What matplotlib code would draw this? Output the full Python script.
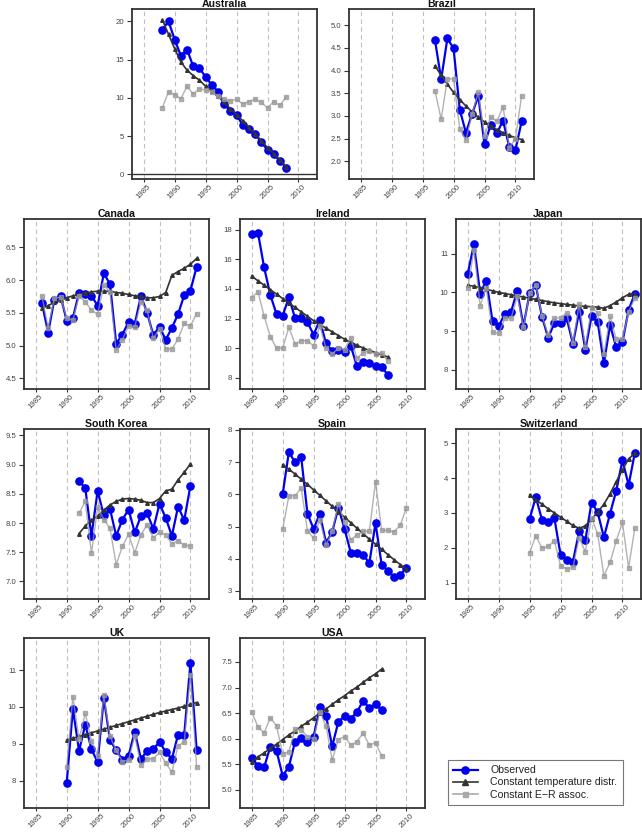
import numpy as np
import matplotlib
matplotlib.use("Agg")
import matplotlib.pyplot as plt
from matplotlib.lines import Line2D

plt.rcParams['font.family'] = ['Liberation Sans', 'DejaVu Sans']

# ---------------- data ----------------
aus_years = np.arange(1988, 2009)
aus_obs = [18.9, 20.0, 17.6, 15.5, 16.3, 14.1, 13.9, 12.7, 11.7, 10.8, 9.2, 8.3, 7.8, 6.4, 5.9, 5.3, 4.2, 3.2, 2.6, 1.8, 0.9]
aus_temp = [20.2, 18.3, 16.4, 14.7, 13.6, 12.9, 12.3, 11.5, 10.9, 10.2, 9.4, 8.6, 7.8, 7.0, 6.1, 5.3, 4.4, 3.5, 2.7, 1.9, 1.0]
aus_er = [8.7, 10.8, 10.4, 9.9, 11.5, 10.5, 11.2, 11.0, 10.8, 10.2, 9.9, 9.6, 9.8, 9.2, 9.5, 9.8, 9.4, 8.7, 9.5, 9.0, 10.1]

bra_years = np.arange(1997, 2012)
bra_obs = [4.67, 3.81, 4.71, 4.49, 3.14, 2.63, 3.05, 3.44, 2.38, 2.80, 2.62, 2.90, 2.32, 2.25, 2.88]
bra_temp = [4.10, 3.90, 3.70, 3.52, 3.36, 3.22, 3.09, 2.97, 2.87, 2.78, 2.70, 2.63, 2.57, 2.52, 2.48]
bra_er = [3.55, 2.93, 3.82, 3.82, 2.72, 2.47, 3.05, 3.52, 2.55, 2.98, 2.88, 3.20, 2.30, 2.50, 3.45]

can_years = np.arange(1986, 2012)
can_obs = [5.65, 5.20, 5.70, 5.76, 5.38, 5.42, 5.81, 5.78, 5.76, 5.61, 6.10, 5.94, 5.03, 5.17, 5.36, 5.33,
           5.76, 5.50, 5.16, 5.29, 5.09, 5.27, 5.48, 5.77, 5.84, 6.20]
can_temp = [5.57, 5.61, 5.66, 5.70, 5.73, 5.76, 5.78, 5.80, 5.82, 5.83, 5.83, 5.83, 5.81, 5.80, 5.78, 5.76,
            5.75, 5.73, 5.73, 5.75, 5.81, 6.07, 6.13, 6.18, 6.24, 6.33]
can_er = [5.76, 5.27, 5.72, 5.74, 5.42, 5.39, 5.76, 5.67, 5.54, 5.48, 5.92, 5.82, 4.93, 5.09, 5.30, 5.29,
          5.67, 5.54, 5.11, 5.26, 4.95, 4.95, 5.10, 5.34, 5.30, 5.49]

ire_years = np.arange(1985, 2008)
ire_obs = [17.73, 17.80, 15.45, 13.59, 12.30, 12.19, 13.43, 12.03, 12.01, 11.74, 10.91, 11.90, 10.32, 9.82,
           9.87, 9.76, 10.16, 8.77, 9.04, 9.01, 8.77, 8.74, 8.18]
ire_temp = [14.85, 14.55, 14.25, 13.95, 13.65, 13.35, 13.05, 12.75, 12.45, 12.15, 11.85, 11.60, 11.35, 11.10,
            10.85, 10.60, 10.40, 10.20, 10.00, 9.85, 9.70, 9.55, 9.40]
ire_er = [13.41, 13.81, 12.17, 10.77, 10.00, 10.00, 11.40, 10.27, 10.50, 10.50, 10.14, 11.50, 10.00, 9.60,
          10.00, 9.90, 10.70, 9.30, 9.70, 9.80, 9.60, 9.70, 9.10]

jpn_years = np.arange(1985, 2013)
jpn_obs = [10.48, 11.24, 9.97, 10.30, 9.26, 9.13, 9.45, 9.50, 10.04, 9.13, 9.98, 10.18, 9.37, 8.83,
           9.21, 9.21, 9.33, 8.67, 9.50, 8.52, 9.38, 9.24, 8.17, 9.16, 8.58, 8.72, 9.55, 9.96]
jpn_temp = [10.18, 10.16, 10.12, 10.08, 10.04, 10.00, 9.97, 9.94, 9.91, 9.88, 9.85, 9.82, 9.79, 9.76,
            9.73, 9.71, 9.69, 9.67, 9.65, 9.64, 9.63, 9.62, 9.59, 9.66, 9.75, 9.86, 9.95, 9.97]
jpn_er = [10.10, 11.10, 9.66, 10.10, 8.97, 8.94, 9.33, 9.33, 9.90, 9.10, 9.98, 10.20, 9.40, 8.90,
          9.33, 9.35, 9.47, 8.70, 9.70, 8.60, 9.60, 9.48, 8.40, 9.38, 8.80, 8.80, 9.50, 9.85]

kor_years = np.arange(1992, 2011)
kor_obs = [8.72, 8.60, 7.78, 8.55, 8.13, 8.24, 7.78, 8.06, 8.23, 7.84, 8.12, 8.17, 7.90, 8.33, 8.09, 7.78, 8.28, 8.05, 8.64]
kor_temp = [7.82, 7.95, 8.05, 8.12, 8.22, 8.31, 8.37, 8.41, 8.42, 8.41, 8.39, 8.35, 8.35, 8.42, 8.55, 8.58, 8.74, 8.87, 9.01]
kor_er = [8.17, 8.37, 7.48, 8.27, 8.06, 7.91, 7.29, 7.60, 7.81, 7.49, 7.80, 7.97, 7.75, 7.84, 7.80, 7.64, 7.70, 7.62, 7.61]

esp_years = np.arange(1990, 2011)
esp_obs = [6.01, 7.32, 6.99, 7.15, 5.40, 4.93, 5.40, 4.50, 4.83, 5.59, 4.93, 4.19, 4.19, 4.13, 3.86, 5.11,
           3.81, 3.63, 3.43, 3.50, 3.72]
esp_temp = [6.92, 6.78, 6.63, 6.47, 6.31, 6.14, 5.97, 5.80, 5.63, 5.46, 5.29, 5.12, 4.95, 4.78, 4.61, 4.45,
            4.29, 4.13, 3.97, 3.82, 3.68]
esp_er = [4.92, 5.95, 5.96, 6.20, 4.87, 4.64, 5.21, 4.43, 4.85, 5.71, 5.13, 4.59, 4.74, 4.85, 4.85, 6.39,
          4.88, 4.88, 4.83, 5.04, 5.59]

che_years = np.arange(1995, 2013)
che_obs = [2.83, 3.46, 2.80, 2.75, 2.85, 1.80, 1.65, 1.60, 2.47, 2.21, 3.30, 3.02, 2.30, 2.98, 3.64, 4.51, 3.80, 4.72]
che_temp = [3.52, 3.38, 3.25, 3.12, 3.00, 2.88, 2.76, 2.64, 2.56, 2.63, 2.82, 3.02, 3.25, 3.55, 3.90, 4.24, 4.55, 4.72]
che_er = [1.86, 2.34, 1.99, 2.04, 2.20, 1.48, 1.39, 1.44, 2.28, 1.89, 2.85, 2.40, 1.20, 1.58, 2.20, 2.73, 1.43, 2.56]

uk_years = np.arange(1990, 2012)
uk_obs = [7.94, 9.95, 8.81, 9.52, 8.86, 8.50, 10.24, 9.10, 8.83, 8.57, 8.68, 9.33, 8.59, 8.81, 8.86, 9.05,
          8.78, 8.59, 9.25, 9.25, 11.20, 8.83]
uk_temp = [9.10, 9.15, 9.20, 9.25, 9.30, 9.35, 9.40, 9.45, 9.50, 9.55, 9.60, 9.65, 9.70, 9.75, 9.80, 9.85,
           9.89, 9.93, 9.97, 10.02, 10.07, 10.12]
uk_er = [8.38, 10.28, 9.13, 9.83, 9.08, 8.68, 10.32, 9.20, 8.83, 8.52, 8.56, 9.22, 8.42, 8.59, 8.59, 8.77,
         8.48, 8.23, 8.95, 9.04, 10.88, 8.38]

usa_years = np.arange(1985, 2007)
usa_obs = [5.62, 5.47, 5.44, 5.84, 5.76, 5.27, 5.45, 5.94, 6.02, 5.94, 6.04, 6.61, 6.45, 5.85, 6.33, 6.44,
           6.39, 6.52, 6.74, 6.60, 6.67, 6.56]
usa_temp = [5.55, 5.64, 5.72, 5.81, 5.89, 5.98, 6.07, 6.15, 6.24, 6.32, 6.41, 6.50, 6.58, 6.67, 6.76, 6.84,
            6.93, 7.01, 7.10, 7.19, 7.27, 7.36]
usa_er = [6.52, 6.23, 6.11, 6.41, 6.25, 5.70, 5.74, 6.18, 6.17, 6.04, 5.99, 6.53, 6.25, 5.58, 5.98, 6.04,
          5.87, 5.94, 6.11, 5.87, 5.92, 5.66]

year_ticks = [1985, 1990, 1995, 2000, 2005, 2010]
series_labels = ["Observed", "Constant temperature distr.", "Constant E\u2212R assoc."]

# ---------------- layout (pixels) ----------------
W, H = 642, 833
AW, AH = 185, 170

panels = [
    ("Australia", aus_years, aus_obs, aus_temp, aus_er, (132, 9), (-0.6, 21.6), [0, 5, 10, 15, 20], "{:.0f}"),
    ("Brazil", bra_years, bra_obs, bra_temp, bra_er, (349, 9), (1.61, 5.36), [2.0, 2.5, 3.0, 3.5, 4.0, 4.5, 5.0], "{:.1f}"),
    ("Canada", can_years, can_obs, can_temp, can_er, (24, 219), (4.34, 6.93), [4.5, 5.0, 5.5, 6.0, 6.5], "{:.1f}"),
    ("Ireland", ire_years, ire_obs, ire_temp, ire_er, (240, 219), (7.24, 18.72), [8, 10, 12, 14, 16, 18], "{:.0f}"),
    ("Japan", jpn_years, jpn_obs, jpn_temp, jpn_er, (456, 219), (7.51, 11.89), [8, 9, 10, 11], "{:.0f}"),
    ("South Korea", kor_years, kor_obs, kor_temp, kor_er, (24, 429), (6.70, 9.61), [7.0, 7.5, 8.0, 8.5, 9.0, 9.5], "{:.1f}"),
    ("Spain", esp_years, esp_obs, esp_temp, esp_er, (240, 429), (2.75, 8.03), [3, 4, 5, 6, 7, 8], "{:.0f}"),
    ("Switzerland", che_years, che_obs, che_temp, che_er, (456, 429), (0.53, 5.41), [1, 2, 3, 4, 5], "{:.0f}"),
    ("UK", uk_years, uk_obs, uk_temp, uk_er, (24, 638), (7.26, 11.87), [8, 9, 10, 11], "{:.0f}"),
    ("USA", usa_years, usa_obs, usa_temp, usa_er, (240, 638), (4.64, 7.97), [5.0, 5.5, 6.0, 6.5, 7.0, 7.5], "{:.1f}"),
]

BLUE = "#0000ee"
DARK = "#333333"
GRAY = "#999999"
TICKC = "#444444"

fig = plt.figure(figsize=(W / 100, H / 100), dpi=100)

for name, yrs, obs, tmp, er, (lx, ty), ylim, yt, fmt in panels:
    ax = fig.add_axes([lx / W, 1 - (ty + AH) / H, AW / W, AH / H])
    for yv in year_ticks:
        ax.axvline(yv, color="#c0c0c0", lw=0.8, ls=(0, (4, 3)), zorder=0)
    if name == "Australia":
        ax.axhline(0, color=DARK, lw=1.0, zorder=1)
    ax.plot(yrs, obs, color=BLUE, lw=1.6, marker="o", ms=5.2, mec=BLUE, mfc=BLUE, zorder=3)
    ax.plot(yrs, tmp, color=DARK, lw=1.2, marker="^", ms=2.6, mec=DARK, mfc=DARK, zorder=4)
    ax.plot(yrs, er, color=GRAY, lw=1.0, marker="s", ms=2.4, mec=GRAY, mfc=GRAY, alpha=0.75, zorder=5)
    ax.set_xlim(1983.1, 2013.0)
    ax.set_ylim(*ylim)
    ax.set_xticks(year_ticks)
    ax.set_xticklabels([str(v) for v in year_ticks], rotation=45, ha="center", fontsize=5.6, color=TICKC)
    ax.set_yticks(yt)
    ax.set_yticklabels([fmt.format(v) for v in yt], fontsize=5.6, color=TICKC)
    ax.tick_params(axis="y", direction="out", length=3.5, width=0.8, color=DARK, pad=2)
    ax.tick_params(axis="x", direction="out", length=2.5, width=0.8, color=DARK, pad=0.5)
    for sp in ax.spines.values():
        sp.set_color(DARK)
        sp.set_linewidth(1.3)
    ax.set_title(name, fontsize=7.6, fontweight="bold", pad=1.0, color="#111111")

# legend
handles = [
    Line2D([0], [0], color=BLUE, lw=1.6, marker="o", ms=5.2),
    Line2D([0], [0], color=DARK, lw=1.2, marker="^", ms=4),
    Line2D([0], [0], color="#aaaaaa", lw=1.2, marker="s", ms=3.6),
]
leg = fig.legend(handles, series_labels, loc="upper left",
                 bbox_to_anchor=(448 / W, 1 - 760 / H), fontsize=7.6,
                 frameon=True, fancybox=False, edgecolor="#555555",
                 handlelength=2.3, handletextpad=1.2, labelspacing=0.2,
                 borderpad=0.5, borderaxespad=0.0)
leg.get_frame().set_linewidth(0.8)
for t in leg.get_texts():
    t.set_color("#222222")

fig.savefig("out.png", dpi=100)
